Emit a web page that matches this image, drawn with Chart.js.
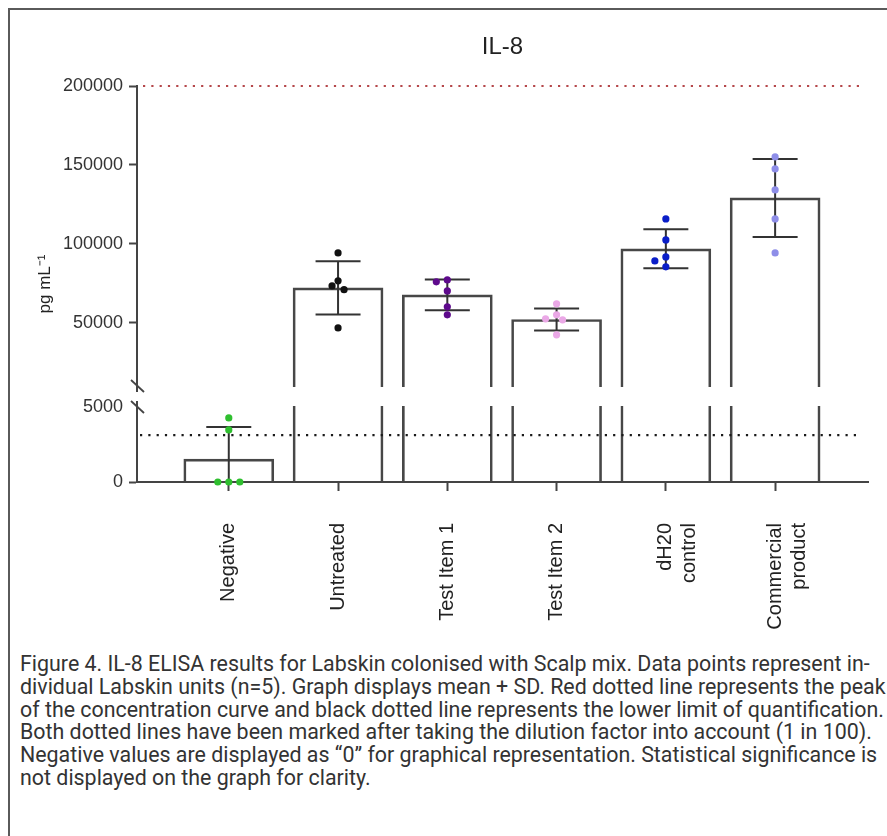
<!DOCTYPE html>
<html>
<head>
<meta charset="utf-8">
<script src="https://cdn.jsdelivr.net/npm/chart.js@4.4.1/dist/chart.umd.min.js"></script>
<style>
  html, body { margin: 0; padding: 0; background: #fff; }
  body { width: 887px; height: 836px; overflow: hidden; position: relative; }
  #frame { position: absolute; left: 8px; top: 8px; width: 1000px; height: 1000px;
           border-left: 2px solid #5a5a5a; border-top: 2px solid #5a5a5a; }
  #wrap { position: absolute; left: 0; top: 0; width: 887px; height: 650px; }
  #caption { position: absolute; left: 20px; top: 653px; width: 867px; overflow: hidden;
             white-space: nowrap; font-family: Roboto, 'Liberation Sans', sans-serif;
             font-size: 21.4px; line-height: 22.8px; color: #333; }
</style>
</head>
<body>
<div id="frame"></div>
<div id="wrap"><canvas id="c"></canvas></div>
<div id="caption">Figure 4. IL-8 ELISA results for Labskin colonised with Scalp mix. Data points represent in-<br>dividual Labskin units (n=5). Graph displays mean + SD. Red dotted line represents the peak<br>of the concentration curve and black dotted line represents the lower limit of quantification.<br>Both dotted lines have been marked after taking the dilution factor into account (1 in 100).<br>Negative values are displayed as “0” for graphical representation. Statistical significance is<br>not displayed on the graph for clarity.</div>
<script>
// ---- data ----
const catLabels = ['Negative', 'Untreated', 'Test Item 1', 'Test Item 2', ['dH20', 'control'], ['Commercial', 'product']];
const barMeans = [1530, 72150, 67700, 52100, 96850, 129100];
const barSD = [2130, 16800, 9800, 7000, 12350, 24700];
const ptsNegative = [0, 0, 0, 3470, 4270];
const ptsUntreated = [94300, 76600, 73400, 71000, 46800];
const ptsTest1 = [77200, 75950, 70200, 60130, 55070];
const ptsTest2 = [62030, 55070, 52530, 51900, 42410];
const ptsDH20 = [115800, 102500, 91770, 89240, 85450];
const ptsCommercial = [155060, 147470, 134180, 115820, 94300];
const yTickValues = [0, 5000, 50000, 100000, 150000, 200000];
const lowerMax = 5000;      // top of lower axis segment
const upperMin = 10000;     // bottom of upper axis segment
const yMax = 200000;
const peakLine = 200000;    // red dotted line
const lloqLine = 3125;      // black dotted line

// ---- styles ----
const FONT = "'Liberation Sans', Arial, Helvetica, sans-serif";
const pointColors = ['#2fbf2f', '#111111', '#5e0a8c', '#eaa8e6', '#0a1ec8', '#8e8ee8'];
const groups = [ptsNegative, ptsUntreated, ptsTest1, ptsTest2, ptsDH20, ptsCommercial];
const LOW_FRAC = 75 / 396, GAP_FRAC = 21 / 396;

class BrokenLinearScale extends Chart.LinearScale {
  determineDataLimits() { this.min = 0; this.max = yMax; }
  buildTicks() { return yTickValues.map(v => ({ value: v })); }
  getPixelForValue(value) {
    const h = this.bottom - this.top;
    const lowH = h * LOW_FRAC, gapH = h * GAP_FRAC, upH = h - lowH - gapH;
    if (value <= lowerMax) return this.bottom - value / lowerMax * lowH;
    if (value <= upperMin) return this.bottom - lowH - (value - lowerMax) / (upperMin - lowerMax) * gapH;
    return this.bottom - lowH - gapH - (value - upperMin) / (this.max - upperMin) * upH;
  }
  getValueForPixel(pixel) {
    const h = this.bottom - this.top;
    const lowH = h * LOW_FRAC, gapH = h * GAP_FRAC, upH = h - lowH - gapH;
    const d = this.bottom - pixel;
    if (d <= lowH) return d / lowH * lowerMax;
    if (d <= lowH + gapH) return lowerMax + (d - lowH) / gapH * (upperMin - lowerMax);
    return upperMin + (d - lowH - gapH) / upH * (this.max - upperMin);
  }
}
BrokenLinearScale.id = 'brokenLinear';
BrokenLinearScale.defaults = Chart.LinearScale.defaults;
Chart.register(BrokenLinearScale);

const jitterPlugin = {
  id: 'jitter',
  afterDatasetsUpdate(chart) {
    chart.data.datasets.forEach((ds, di) => {
      if (ds.type !== 'scatter') return;
      const meta = chart.getDatasetMeta(di);
      const pts = meta.data.slice().sort((a, b) => a.y - b.y);
      const placed = [];
      const D = 7.5, cands = [0, -6, 6, -11, 11, -16, 16];
      pts.forEach(p => {
        const bx = p.x;
        for (const dx of cands) {
          if (placed.every(q => Math.hypot(q.x - (bx + dx), q.y - p.y) >= D)) { p.x = bx + dx; break; }
        }
        placed.push(p);
      });
    });
  }
};

const decorPlugin = {
  id: 'decor',
  afterDatasetDraw(chart, args) {
    if (args.meta.type !== 'bar') return;
    const ctx = chart.ctx, area = chart.chartArea;
    const xs = chart.scales.x, ys = chart.scales.y;
    const pUp = ys.getPixelForValue(upperMin), pLow = ys.getPixelForValue(lowerMax);
    ctx.save();
    // axis break gap
    ctx.fillStyle = '#ffffff';
    ctx.fillRect(area.left + 2, pUp + 1, area.right - area.left, pLow - pUp - 2);
    ctx.fillRect(area.left - 3, pUp + 6, 6, pLow - pUp - 12);
    ctx.strokeStyle = '#444';
    ctx.lineWidth = 1.8;
    [pUp, pLow].forEach(py => {
      ctx.beginPath();
      ctx.moveTo(area.left - 6, py - 6);
      ctx.lineTo(area.left + 7, py + 6);
      ctx.stroke();
    });
    // error bars (mean ± SD)
    ctx.strokeStyle = '#333';
    ctx.lineWidth = 2;
    barMeans.forEach((m, i) => {
      const cx = xs.getPixelForValue(i);
      const hi = ys.getPixelForValue(m + barSD[i]);
      const loV = m - barSD[i];
      const lo = ys.getPixelForValue(Math.max(0, loV));
      ctx.beginPath();
      ctx.moveTo(cx, lo); ctx.lineTo(cx, hi);
      ctx.moveTo(cx - 22.5, hi); ctx.lineTo(cx + 22.5, hi);
      if (loV >= 0) { ctx.moveTo(cx - 22.5, lo); ctx.lineTo(cx + 22.5, lo); }
      ctx.stroke();
    });
    // dotted reference lines
    ctx.lineWidth = 2.2;
    ctx.setLineDash([2.2, 6.1]);
    const yr = ys.getPixelForValue(peakLine);
    ctx.strokeStyle = '#b5474a';
    ctx.beginPath(); ctx.moveTo(area.left + 6, yr); ctx.lineTo(area.right - 6, yr); ctx.stroke();
    const yb = ys.getPixelForValue(lloqLine);
    ctx.strokeStyle = '#1a1a1a';
    ctx.beginPath(); ctx.moveTo(area.left + 3, yb); ctx.lineTo(area.right - 6, yb); ctx.stroke();
    ctx.restore();
  }
};

const datasets = [{
  type: 'bar',
  data: barMeans.map((v, i) => ({ x: i, y: v })),
  backgroundColor: 'rgba(255,255,255,0)',
  borderColor: '#474747',
  borderWidth: 2,
  barThickness: 90,
  order: 2
}];
groups.forEach((g, i) => {
  datasets.push({
    type: 'scatter',
    data: g.map(v => ({ x: i, y: v })),
    backgroundColor: pointColors[i],
    borderWidth: 0,
    pointRadius: 3.6,
    order: 1
  });
});

new Chart(document.getElementById('c'), {
  type: 'bar',
  data: { datasets },
  plugins: [jitterPlugin, decorPlugin],
  options: {
    responsive: true,
    maintainAspectRatio: false,
    animation: false,
    events: [],
    layout: { padding: { left: 30, right: 19, top: 25, bottom: 0 } },
    plugins: {
      legend: { display: false },
      tooltip: { enabled: false },
      title: {
        display: true, text: 'IL-8', fullSize: false, color: '#222',
        font: { family: FONT, size: 24, weight: 'normal' },
        padding: { top: 8, bottom: 24.2 }
      }
    },
    scales: {
      x: {
        type: 'linear', position: 'bottom', min: -0.84, max: 5.85, offset: false,
        afterBuildTicks: s => { s.ticks = catLabels.map((_, i) => ({ value: i })); },
        afterFit: s => { s.height = 168; },
        grid: { offset: false, drawOnChartArea: false, tickLength: 9, tickColor: '#444', tickWidth: 2 },
        border: { color: '#444', width: 2 },
        ticks: {
          callback: v => catLabels[v],
          minRotation: 90, maxRotation: 90, autoSkip: false, padding: 32,
          color: '#222', font: { family: FONT, size: 20 }
        }
      },
      y: {
        type: 'brokenLinear', position: 'left',
        afterFit: s => { s.width = 107; },
        title: {
          display: true, text: 'pg mL⁻¹', color: '#222',
          font: { family: FONT, size: 17 }, padding: { top: 5, bottom: 0 }
        },
        grid: {
          drawOnChartArea: false, tickLength: 8, tickWidth: 2,
          tickColor: c => (c.tick && c.tick.value === lowerMax) ? 'rgba(0,0,0,0)' : '#444'
        },
        border: { color: '#444', width: 2 },
        ticks: { callback: v => String(v), color: '#333', padding: 6, font: { family: FONT, size: 18 } }
      }
    }
  }
});
</script>
</body>
</html>
